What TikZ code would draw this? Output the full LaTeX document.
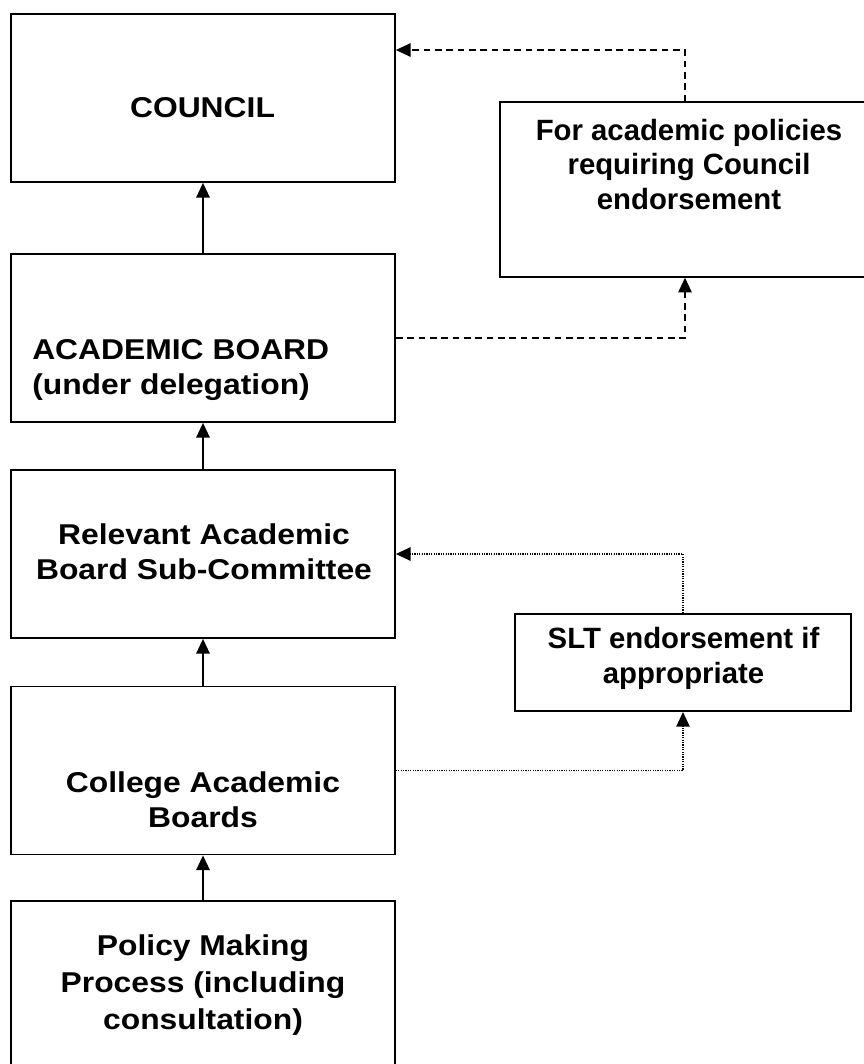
\documentclass[tikz,border=0pt]{standalone}
\usepackage{fontspec}
\setmainfont{Liberation Sans}
\newfontfamily\chainfont[FakeStretch=1.11]{Liberation Sans}
\usetikzlibrary{arrows.meta}

\begin{document}
\begin{tikzpicture}[x=0.75pt, y=-0.75pt,
	box/.style={draw, line width=1.3pt, minimum width=288pt, minimum height=126pt, inner sep=0pt},
	label text/.style={font=\chainfont\bfseries\fontsize{21.5pt}{26pt}\selectfont, align=center, inner sep=0pt},
	side text/.style={font=\bfseries\fontsize{22pt}{26pt}\selectfont, align=center, inner sep=0pt},
	uplink/.style={line width=1.3pt, -{Triangle[length=11pt, width=10pt]}},
	dashlink/.style={uplink, dash pattern=on 5pt off 3.5pt},
	dotlink/.style={uplink, line width=1.3pt, dash pattern=on 0.9pt off 0.9pt}]
	%% page frame
	\useasboundingbox (0, 0) rectangle (864, 1064);
	\clip (0, 0) rectangle (864, 1064);

	%% main chain
	\node[box] (council) at (203, 98) {};
	\node[box] (acad) at (203, 338) {};
	\node[box] (rel) at (203, 554) {};
	\node[box] (coll) at (203, 770.5) {};
	\node[box] (policy) at (203, 985) {};

	%% side boxes
	\node[box, minimum width=277.5pt, minimum height=131pt] (forpol) at (685, 189.5) {};
	\node[box, minimum width=252pt, minimum height=73pt] (slt) at (683, 662.5) {};

	%% texts
	\node[label text] (counciltext) at (202.5, 108) {COUNCIL};
	\node[label text, align=left, anchor=west] (acadtext) at (32, 370) {ACADEMIC BOARD\\(under delegation)};
	\node[label text] (reltext) at (204, 551.5) {Relevant Academic\\Board Sub-Committee};
	\node[label text] (colltext) at (203, 799.5) {College Academic\\Boards};
	\node[label text, font=\chainfont\bfseries\fontsize{21.5pt}{27.5pt}\selectfont] (policytext) at (203, 985) {Policy Making\\Process (including\\consultation)};
	\node[side text] (fortext) at (689, 164.5) {For academic policies\\requiring Council\\endorsement};
	\node[side text] (slttext) at (683.5, 658.5) {SLT endorsement if\\appropriate};

	%% upward links
	\draw[uplink] (acad.north) -- (council.south);
	\draw[uplink] (rel.north) -- (acad.south);
	\draw[uplink] (coll.north) -- (rel.south);
	\draw[uplink] (policy.north) -- (coll.south);

	%% council endorsement route
	\draw[dashlink] (acad.east) -| (forpol.south);
	\draw[dashlink] (forpol.north) |- ([yshift=36pt]council.east);

	%% SLT route
	\draw[dotlink] (coll.east) -| (slt.south);
	\draw[dotlink] (slt.north) |- (rel.east);
\end{tikzpicture}
\end{document}
